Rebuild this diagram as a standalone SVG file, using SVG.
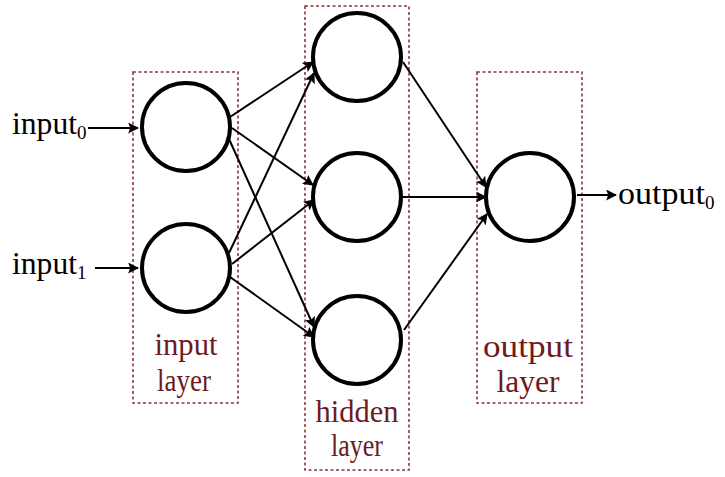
<svg xmlns="http://www.w3.org/2000/svg" width="725" height="477" viewBox="0 0 725 477">
<style>
.box{fill:none;stroke:#8a3a3a;stroke-width:1.6;stroke-dasharray:3 2.5}
.node{fill:#fff;stroke:#000;stroke-width:4}
.edge{stroke:#000;stroke-width:2;fill:none;marker-end:url(#arr)}
.lbl{font-family:"Liberation Serif",serif;font-size:32px;fill:#000}
.sub{font-size:19px}
.lay{font-family:"Liberation Serif",serif;font-size:31px;fill:#6e1a1e;text-anchor:middle}
</style>
<defs>
<marker id="arr" viewBox="0 0 10 10" refX="9" refY="5" markerWidth="5.5" markerHeight="5.5" orient="auto" markerUnits="strokeWidth">
<path d="M0,0 L10,5 L0,10 L2,5 Z" fill="#000"/>
</marker>
</defs>
<g id="input-layer">
<rect class="box" x="133" y="72" width="105" height="331"/>
<text class="lay" x="186" y="355" textLength="63" lengthAdjust="spacingAndGlyphs">input</text>
<text class="lay" x="184" y="391" textLength="54" lengthAdjust="spacingAndGlyphs">layer</text>
</g>
<g id="hidden-layer">
<rect class="box" x="305" y="6" width="104" height="464"/>
<text class="lay" x="357" y="422" textLength="83" lengthAdjust="spacingAndGlyphs">hidden</text>
<text class="lay" x="357" y="456" textLength="52" lengthAdjust="spacingAndGlyphs">layer</text>
</g>
<g id="output-layer">
<rect class="box" x="477" y="72" width="105" height="331"/>
<text class="lay" x="528" y="357" textLength="90" lengthAdjust="spacingAndGlyphs">output</text>
<text class="lay" x="528" y="392" textLength="63" lengthAdjust="spacingAndGlyphs">layer</text>
</g>
<g id="connectors">
<line class="edge" x1="88" y1="128" x2="138" y2="128"/>
<line class="edge" x1="95" y1="268" x2="138" y2="268"/>
<line class="edge" x1="230" y1="117" x2="313" y2="62"/>
<line class="edge" x1="232" y1="128" x2="313" y2="185"/>
<line class="edge" x1="229" y1="139" x2="314" y2="327"/>
<line class="edge" x1="229" y1="253" x2="314" y2="73"/>
<line class="edge" x1="232" y1="264" x2="314" y2="200"/>
<line class="edge" x1="230" y1="277" x2="314" y2="337"/>
<line class="edge" x1="403" y1="62" x2="486" y2="187"/>
<line class="edge" x1="403" y1="197" x2="486" y2="197"/>
<line class="edge" x1="404" y1="330" x2="487" y2="214"/>
<line class="edge" x1="577" y1="195" x2="616" y2="195"/>
</g>
<g id="in0"><circle class="node" cx="186" cy="127" r="44"/></g>
<g id="in1"><circle class="node" cx="186" cy="268" r="44"/></g>
<g id="h0"><circle class="node" cx="357" cy="57" r="44"/></g>
<g id="h1"><circle class="node" cx="357" cy="197" r="44"/></g>
<g id="h2"><circle class="node" cx="357" cy="340" r="44"/></g>
<g id="out0"><circle class="node" cx="530" cy="197" r="44"/></g>
<g id="labels">
<text class="lbl" x="12" y="134"><tspan textLength="65" lengthAdjust="spacingAndGlyphs">input</tspan><tspan class="sub" dy="5">0</tspan></text>
<text class="lbl" x="12" y="274"><tspan textLength="65" lengthAdjust="spacingAndGlyphs">input</tspan><tspan class="sub" dy="5">1</tspan></text>
<text class="lbl" x="618" y="204"><tspan textLength="87" lengthAdjust="spacingAndGlyphs">output</tspan><tspan class="sub" dy="5">0</tspan></text>
</g>
</svg>
